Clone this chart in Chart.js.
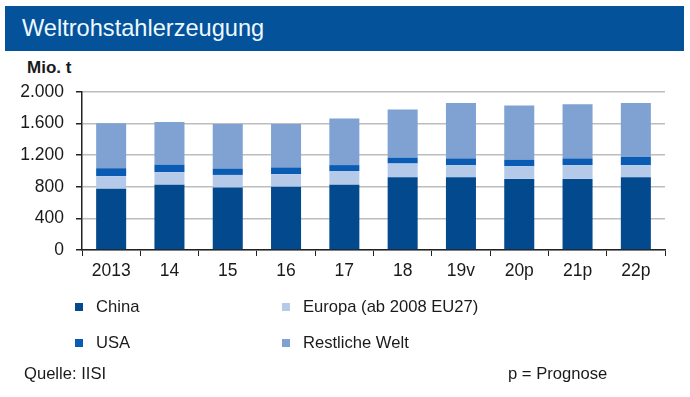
<!DOCTYPE html>
<html>
<head>
<meta charset="utf-8">
<script src="https://cdn.jsdelivr.net/npm/chart.js@4/dist/chart.umd.min.js"></script>
<style>
  html, body { margin:0; padding:0; background:#fff; }
  body { width:690px; height:397px; position:relative; overflow:hidden; font-family:"Liberation Sans", Arial, sans-serif; color:#1a1a1a; }
  #hdr { position:absolute; left:5px; top:6px; width:679px; height:45px; background:#03529a; }
  #hdr span { position:absolute; left:17px; top:9px; font-size:23.6px; color:#eef8ff; }
  #unit { position:absolute; left:27px; top:58px; font-size:17px; font-weight:bold; }
  #c { position:absolute; left:0; top:0; }
  .lg { position:absolute; font-size:16.6px; line-height:18px; white-space:nowrap; }
  .lg i { display:inline-block; width:8px; height:8px; margin-right:13px; vertical-align:middle; position:relative; top:-1px; }
  .ft { position:absolute; font-size:16.6px; line-height:18px; }
</style>
</head>
<body>
<div id="hdr"><span>Weltrohstahlerzeugung</span></div>
<div id="unit">Mio. t</div>
<canvas id="c" width="690" height="397"></canvas>
<div class="lg" id="lg0" style="left:75px;top:298px"></div>
<div class="lg" id="lg1" style="left:282px;top:298px"></div>
<div class="lg" id="lg2" style="left:75px;top:334px"></div>
<div class="lg" id="lg3" style="left:282px;top:334px"></div>
<div class="ft" style="left:24px;top:365px">Quelle: IISI</div>
<div class="ft" style="left:508px;top:365px">p = Prognose</div>
<script>
const categories = ["2013","14","15","16","17","18","19v","20p","21p","22p"];
const seriesNames = ["China","Europa (ab 2008 EU27)","USA","Restliche Welt"];
const china  = [775, 825, 790, 800, 825, 920, 920, 900, 900, 920];
const europa = [160, 160, 160, 160, 175, 175, 155, 160, 175, 155];
const usa    = [100,  95,  80,  85,  75,  75,  85,  80,  85, 105];
const rest   = [570, 540, 565, 550, 590, 610, 700, 690, 685, 680];
const yTicks = [0, 400, 800, 1200, 1600, 2000];

const colors = ["#03498d", "#b5cae8", "#0a5bb3", "#7fa2d3"];
const values = [china, europa, usa, rest];

values.forEach((v, i) => {
  const el = document.getElementById("lg" + i);
  el.innerHTML = '<i style="background:' + colors[i] + '"></i>' + seriesNames[i];
});

const fmt = v => String(v).replace(/\B(?=(\d{3})+(?!\d))/g, ".");

new Chart(document.getElementById("c"), {
  type: "bar",
  data: {
    labels: categories,
    datasets: values.map((v, i) => ({
      label: seriesNames[i],
      data: v,
      backgroundColor: colors[i],
      borderWidth: 0,
      barPercentage: 0.515,
      categoryPercentage: 1.0
    }))
  },
  options: {
    responsive: false,
    animation: false,
    devicePixelRatio: 1,
    layout: { padding: { left: 0, top: 92, right: 25, bottom: 117 } },
    plugins: { legend: { display: false }, tooltip: { enabled: false } },
    scales: {
      x: {
        stacked: true,
        afterFit: s => { s.height = 30; },
        border: { color: "#222", width: 1.5 },
        grid: { drawOnChartArea: false, drawTicks: true, tickLength: 6, color: "#222", offset: true },
        ticks: { color: "#1a1a1a", font: { family: "'Liberation Sans', Arial, sans-serif", size: 17.5 }, padding: 5, maxRotation: 0 }
      },
      y: {
        stacked: true,
        min: 0, max: 2000,
        afterFit: s => { s.width = 82; },
        afterBuildTicks: s => { s.ticks = yTicks.map(v => ({ value: v })); },
        border: { color: "#222", width: 1.5 },
        grid: { color: "#bdbdbd", lineWidth: 1.5, tickLength: 6, tickColor: "#222", tickWidth: 1.5 },
        ticks: { color: "#1a1a1a", font: { family: "'Liberation Sans', Arial, sans-serif", size: 17.5 }, padding: 12, callback: v => fmt(v) }
      }
    }
  }
});
</script>
</body>
</html>
